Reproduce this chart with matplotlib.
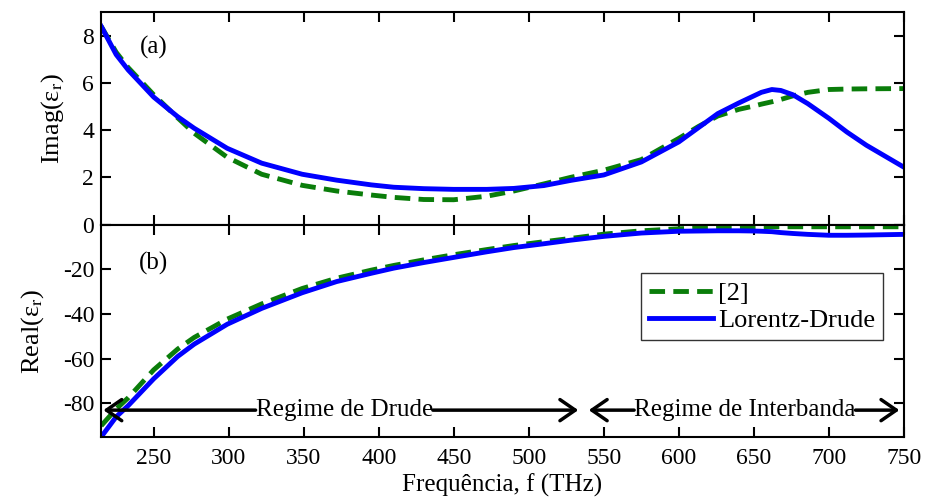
import matplotlib
matplotlib.use("Agg")
import matplotlib.pyplot as plt

plt.rcParams["font.family"] = ["Liberation Serif", "DejaVu Serif"]
plt.rcParams["mathtext.fontset"] = "stix"
plt.rcParams["axes.unicode_minus"] = False

freq = [215, 225, 233, 250, 266, 277, 299, 322, 349, 372, 395, 410, 430, 450,
        472, 490, 510, 528, 550, 575, 600, 613, 626, 640, 650, 655, 662, 668,
        676, 686, 700, 712, 725, 750]

imag_ld = [8.4, 7.2, 6.55, 5.4, 4.57, 4.08, 3.23, 2.6, 2.13, 1.88, 1.68, 1.58,
           1.52, 1.49, 1.49, 1.53, 1.65, 1.87, 2.1, 2.65, 3.5, 4.1, 4.7, 5.15,
           5.45, 5.6, 5.72, 5.68, 5.5, 5.12, 4.5, 3.92, 3.36, 2.43]
imag_ref = [8.4, 7.3, 6.65, 5.5, 4.52, 3.87, 2.85, 2.13, 1.66, 1.42, 1.25, 1.15,
            1.06, 1.05, 1.2, 1.42, 1.72, 2.0, 2.3, 2.75, 3.65, 4.15, 4.6, 4.88,
            5.02, 5.1, 5.2, 5.3, 5.45, 5.6, 5.72, 5.74, 5.75, 5.76]

real_ld = [-95, -86, -81, -69, -59, -53.5, -44.6, -37.5, -30.5, -25.5, -21.8,
           -19.5, -17, -14.7, -12.2, -10.3, -8.6, -7, -5.3, -3.8, -3.0, -2.9,
           -2.8, -2.8, -2.9, -3.0, -3.2, -3.6, -4.0, -4.4, -4.8, -4.8, -4.7, -4.4]
real_ref = [-90, -82.5, -77.5, -65, -55.7, -50.5, -42.3, -35.5, -28.6, -24,
            -20.4, -18.3, -15.8, -13.5, -11.2, -9.4, -7.7, -6.2, -4.3, -2.8,
            -1.9, -1.6, -1.3, -1.1, -1.0, -1.0, -1.0, -1.0, -1.0, -1.0, -1.0,
            -1.0, -1.0, -1.0]

x_ticks = [250, 300, 350, 400, 450, 500, 550, 600, 650, 700, 750]

green = "#0a7d0a"
blue = "#0000ff"
dash = (0, (3.2, 1.7))

fig, (ax1, ax2) = plt.subplots(2, 1, figsize=(9.28, 5.04), dpi=100, sharex=True)
fig.subplots_adjust(left=0.109, right=0.974, top=0.976, bottom=0.133, hspace=0)

ax1.plot(freq, imag_ref, color=green, lw=3.5, ls=dash)
ax1.plot(freq, imag_ld, color=blue, lw=3.5)
ax1.set_ylim(0, 9)
ax1.set_yticks([0, 2, 4, 6, 8])
ax1.set_yticklabels(["", "2", "4", "6", "8"])
ax1.set_ylabel("Imag(ε$_\\mathrm{r}$)", fontsize=19, labelpad=12)
ax1.text(250, 7.5, "(a)", fontsize=18, ha="center", va="center")

ax2.plot(freq, real_ref, color=green, lw=3.5, ls=dash, label="[2]")
ax2.plot(freq, real_ld, color=blue, lw=3.5, label="Lorentz-Drude")
ax2.set_ylim(-95, 0)
ax2.set_yticks([-80, -60, -40, -20, 0])
ax2.set_ylabel("Real(ε$_\\mathrm{r}$)", fontsize=19, labelpad=12)
ax2.text(250, -17.5, "(b)", fontsize=18, ha="center", va="center")
ax2.set_xlim(215, 750)
ax2.set_xticks(x_ticks)
ax2.set_xlabel("Frequência, f (THz)", fontsize=18, labelpad=3)

leg = ax2.legend(loc="upper right", bbox_to_anchor=(0.974, 0.77), fontsize=19,
                 frameon=True, fancybox=False, handlelength=2.4,
                 borderpad=0.3, labelspacing=0.15, handletextpad=0.2,
                 borderaxespad=0)
leg.get_frame().set_edgecolor("black")
leg.get_frame().set_linewidth(1.0)

for ax in (ax1, ax2):
    ax.tick_params(direction="in", top=True, right=True, length=7, width=1.5,
                   labelsize=17, pad=5)
    for s in ax.spines.values():
        s.set_linewidth(1.5)
ax2.tick_params(axis="x", pad=8)

# regime annotations: text with arrows running from its edges
arrow = dict(arrowstyle="->,head_length=0.55,head_width=0.38", lw=2.5,
             color="black", shrinkA=0, shrinkB=0, mutation_scale=20)
y_arr = -83
regimes = [("Regime de Drude", 377, 216.5, 533),
           ("Regime de Interbanda", 644, 540, 747)]
fig.canvas.draw()
inv = ax2.transData.inverted()
for label, xc, x_left, x_right in regimes:
    t = ax2.text(xc, y_arr, label, fontsize=18, ha="center", va="center")
    bb = t.get_window_extent(fig.canvas.get_renderer()).transformed(inv)
    ax2.annotate("", xy=(x_left, y_arr), xytext=(bb.x0, y_arr), arrowprops=arrow)
    ax2.annotate("", xy=(x_right, y_arr), xytext=(bb.x1, y_arr), arrowprops=arrow)

fig.savefig("out.png", dpi=100)
